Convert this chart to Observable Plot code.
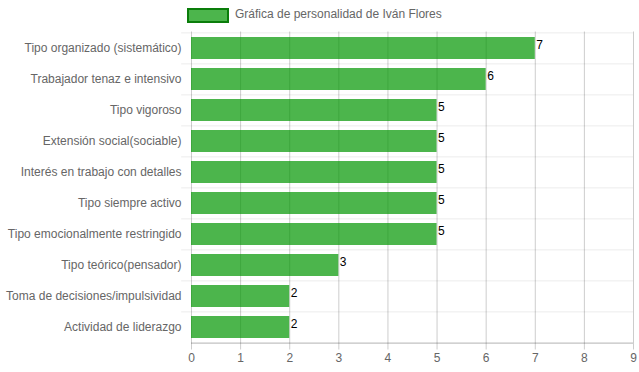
<!DOCTYPE html>
<html><head><meta charset="utf-8">
<script src="https://cdn.jsdelivr.net/npm/d3@7"></script>
<script src="https://cdn.jsdelivr.net/npm/@observablehq/plot@0.6"></script>
<style>
body{margin:0;background:#fff;font-family:"Liberation Sans",Arial,sans-serif;}
#legend{position:relative;height:28px;width:639px;}
#legend .box{position:absolute;left:187px;top:8px;width:38px;height:11px;background:rgba(0,150,0,0.7);border:2px solid #0a7d0a;}
#legend .lbl{position:absolute;left:235px;top:6px;font-size:12px;color:#666;line-height:16px;}
#chart svg{display:block;}
</style></head>
<body>
<div id="legend"><div class="box"></div><div class="lbl">Gráfica de personalidad de Iván Flores</div></div>
<div id="chart"></div>
<script>
const categories = ["Tipo organizado (sistemático)","Trabajador tenaz e intensivo","Tipo vigoroso","Extensión social(sociable)","Interés en trabajo con detalles","Tipo siempre activo","Tipo emocionalmente restringido","Tipo teórico(pensador)","Toma de decisiones/impulsividad","Actividad de liderazgo"];
const values = [7,6,5,5,5,5,5,3,2,2];
const xTicks = [0,1,2,3,4,5,6,7,8,9];
const data = categories.map((c,i)=>({c, v: values[i]}));
const step = 31.2;
const chart = Plot.plot({
  width: 639, height: 344,
  marginLeft: 191, marginRight: 6, marginTop: 3.5, marginBottom: 28.5,
  style: {fontFamily: '"Liberation Sans", Arial, sans-serif', fontSize: "12px", background: "#fff"},
  x: {domain: [0, 9], ticks: xTicks},
  y: {domain: categories, paddingInner: 0.28, paddingOuter: 0.14, align: 0.5},
  marks: [
    Plot.ruleY(categories, {y: d => d, x1: -0.2, x2: 9, dy: -step/2, stroke: "#000", strokeOpacity: 0.08}),
    Plot.gridX(xTicks, {stroke: "#000", strokeOpacity: 0.2}),
    Plot.barX(data, {y: "c", x: "v", fill: "rgb(0,150,0)", fillOpacity: 0.7}),
    Plot.ruleY([categories[categories.length-1]], {y: d => d, x1: 0, x2: 9, dy: step/2, stroke: "#000", strokeOpacity: 0.3}),
    Plot.text(data, {y: "c", x: "v", text: d => String(d.v), textAnchor: "start", dx: 1, dy: -3, fill: "#000", fontFamily: '"Liberation Sans", Arial, sans-serif', fontSize: 12}),
    Plot.axisX({ticks: xTicks, tickSize: 6, tickPadding: 3, stroke: "#000", strokeOpacity: 0.2, fill: "#666", fontSize: 12, label: null}),
    Plot.axisY({tickSize: 0, tickPadding: 10, fill: "#666", fontSize: 12, label: null})
  ]
});
document.getElementById("chart").appendChild(chart);
</script>
</body></html>
